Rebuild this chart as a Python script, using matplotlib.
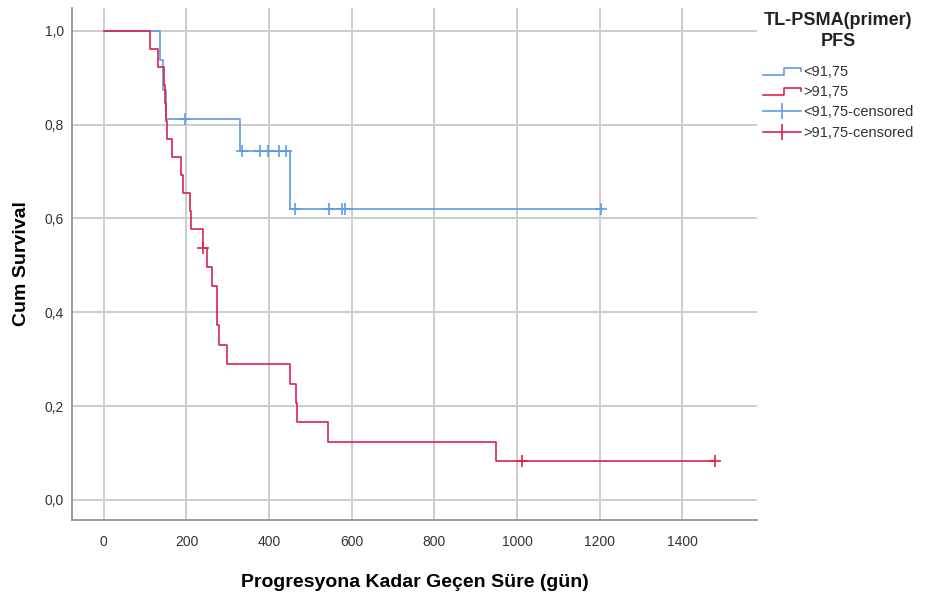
import matplotlib
matplotlib.use("Agg")
import matplotlib.pyplot as plt
from matplotlib.lines import Line2D
from matplotlib.legend_handler import HandlerBase

plt.rcParams['font.family'] = ['Liberation Sans', 'DejaVu Sans']

# Kaplan-Meier steps for the two TL-PSMA groups (days, cumulative survival)
lowTimes = [0, 136, 144, 150, 330, 451, 1205]
lowSurv = [1.0, 0.938, 0.875, 0.812, 0.745, 0.621, 0.621]
lowCensTimes = [196, 334, 378, 398, 425, 442, 463, 546, 576, 584, 1203]
lowCensSurv = [0.812, 0.745, 0.745, 0.745, 0.745, 0.745, 0.621, 0.621, 0.621, 0.621, 0.621]

highTimes = [0, 111, 130, 145, 148, 150, 153, 165, 186, 192, 208, 211, 239, 250,
             262, 275, 278, 297, 451, 465, 467, 543, 949, 1480]
highSurv = [1.0, 0.962, 0.923, 0.885, 0.846, 0.808, 0.769, 0.731, 0.692, 0.654,
            0.615, 0.577, 0.538, 0.497, 0.455, 0.372, 0.331, 0.290, 0.248, 0.207,
            0.166, 0.124, 0.083, 0.083]
highCensTimes = [239, 1013, 1480]
highCensSurv = [0.538, 0.083, 0.083]

groupLabels = ["<91,75", ">91,75"]
xTicks = [0, 200, 400, 600, 800, 1000, 1200, 1400]
yTicks = [0.0, 0.2, 0.4, 0.6, 0.8, 1.0]

blue = "#5e9be3"
red = "#d92350"


class StepHandler(HandlerBase):
  def create_artists(self, legend, orig_handle, xdescent, ydescent, width, height, fontsize, trans):
    lo = height * 0.15 - ydescent
    hi = height * 0.85 - ydescent
    xs = [-xdescent, -xdescent + width * 0.55, -xdescent + width * 0.55, -xdescent + width, -xdescent + width]
    ys = [lo, lo, hi, hi, height * 0.5 - ydescent]
    line = Line2D(xs, ys, color=orig_handle.get_color(), lw=1.2)
    line.set_transform(trans)
    return [line]


fig = plt.figure(figsize=(9.26, 5.94), dpi=100)
ax = fig.add_axes([0.0778, 0.1246, 0.7397, 0.862])

stepLow, = ax.step(lowTimes, lowSurv, where='post', color=blue, lw=1.2)
stepHigh, = ax.step(highTimes, highSurv, where='post', color=red, lw=1.2)
censLow, = ax.plot(lowCensTimes, lowCensSurv, ls='none', marker='+', ms=8, mew=1.2, color=blue)
censHigh, = ax.plot(highCensTimes, highCensSurv, ls='none', marker='+', ms=8, mew=1.2, color=red)

ax.set_xlim(-77, 1581)
ax.set_ylim(-0.043, 1.049)
ax.set_xticks(xTicks)
ax.set_xticklabels([str(t) for t in xTicks])
ax.set_yticks(yTicks)
ax.set_yticklabels([("%.1f" % v).replace(".", ",") for v in yTicks])
ax.grid(True, color="#cccccc", lw=1.4)
ax.set_axisbelow(True)
for side in ["top", "right"]:
  ax.spines[side].set_visible(False)
for side in ["left", "bottom"]:
  ax.spines[side].set_color("#8c8c8c")
  ax.spines[side].set_linewidth(1.2)
ax.tick_params(labelcolor="#333333", labelsize=10, length=0)
ax.tick_params(axis='x', pad=11)
ax.tick_params(axis='y', pad=6)

ax.set_xlabel("Progresyona Kadar Geçen Süre (gün)", fontsize=14, fontweight='bold', labelpad=18)
ax.set_ylabel("Cum Survival", fontsize=14, fontweight='bold', labelpad=10)

legHandles = [
  Line2D([], [], color=blue),
  Line2D([], [], color=red),
  Line2D([], [], color=blue, lw=1.2, marker='|', ms=11, mew=1.2),
  Line2D([], [], color=red, lw=1.2, marker='|', ms=11, mew=1.2),
]
legLabels = [groupLabels[0], groupLabels[1], groupLabels[0] + "-censored", groupLabels[1] + "-censored"]
leg = fig.legend(legHandles, legLabels, loc='upper left', bbox_to_anchor=(0.818, 0.9),
                 frameon=False, fontsize=10.5, handlelength=2.6, handletextpad=0.15,
                 labelspacing=0.42, borderaxespad=0,
                 handler_map={legHandles[0]: StepHandler(), legHandles[1]: StepHandler()})
for txt in leg.get_texts():
  txt.set_color("#333333")

fig.text(0.905, 0.98, "TL-PSMA(primer)\nPFS", ha='center', va='top', fontsize=13,
         fontweight='bold', linespacing=1.3, color="#222222")

fig.savefig("out.png", dpi=100)
plt.close()
